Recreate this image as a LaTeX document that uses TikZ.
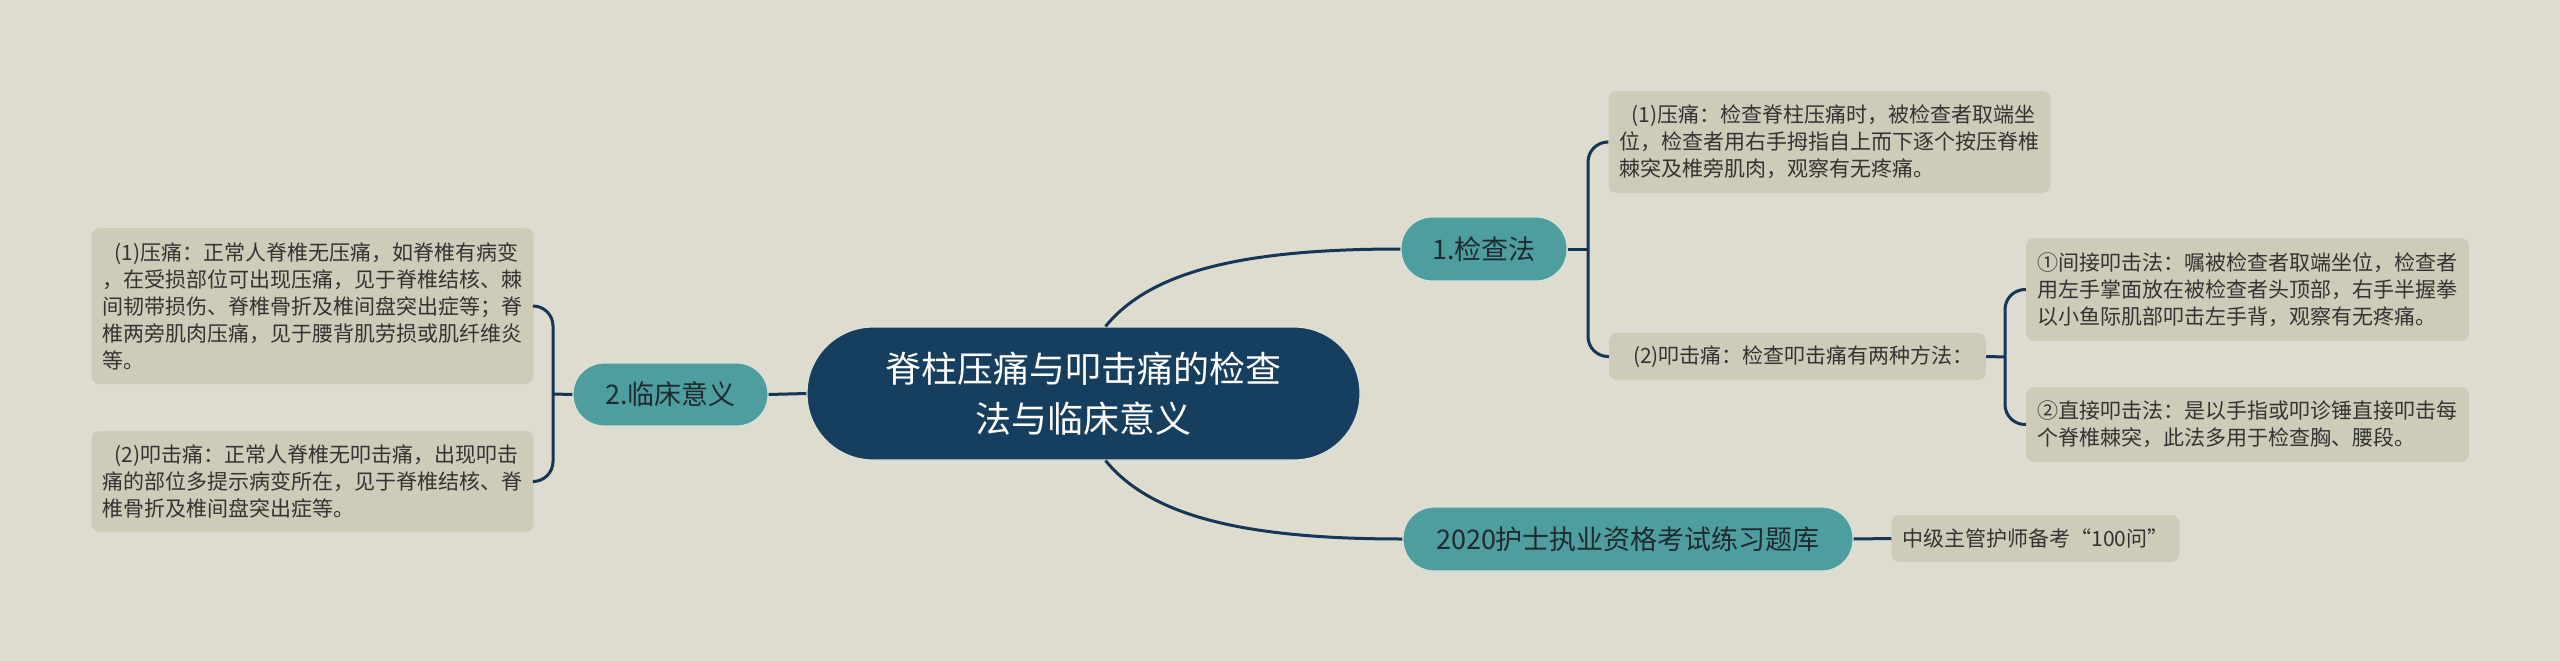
\documentclass[tikz,border=0pt]{standalone}
\usepackage{fontspec}
\setmainfont{Noto Sans CJK SC}
\definecolor{bgc}{HTML}{DEDCCE}
\definecolor{boxc}{HTML}{CECCB8}
\definecolor{tealc}{HTML}{4E9D9F}
\definecolor{tealedge}{HTML}{D8E2DA}
\definecolor{navyc}{HTML}{163E5E}
\definecolor{linec}{HTML}{143758}
\definecolor{txtc}{HTML}{333333}
\definecolor{topictxt}{HTML}{1F2B2E}
\begin{document}
\begin{tikzpicture}[x=1bp,y=-1bp,
  box/.style={fill=boxc, rounded corners=8bp, inner xsep=11bp, inner ysep=5bp,
    font=\fontsize{21bp}{27bp}\selectfont, text=txtc, align=left},
  topic/.style={fill=tealc, draw=tealedge, line width=1.2bp, rounded corners=31bp,
    inner sep=0pt, font=\fontsize{27bp}{32bp}\selectfont, text=topictxt},
  rootnode/.style={fill=navyc, draw=tealedge, line width=1.2bp, rounded corners=66bp,
    inner sep=0pt, font=\fontsize{36bp}{50bp}\selectfont, text=white, align=center},
  link/.style={draw=linec, line width=3bp}
]
\fill[bgc] (0,0) rectangle (2560,661);
\useasboundingbox (0,0) rectangle (2560,661);

% nodes
\node[rootnode, minimum width=553bp, minimum height=133bp] (c) at (1083.5,393.5)
  {脊柱压痛与叩击痛的检查\\法与临床意义};
\node[topic, minimum width=195bp, minimum height=63bp] (n2) at (670.5,394.5) {2.临床意义};
\node[topic, minimum width=166bp, minimum height=64bp] (n1) at (1484,249) {1.检查法};
\node[topic, minimum width=450bp, minimum height=64bp] (n3) at (1628,539) {2020护士执业资格考试练习题库};

\node[box, minimum width=441bp, minimum height=156bp] (L1) at (312.5,306)
  {\hspace*{12bp}(1)压痛：正常人脊椎无压痛，如脊椎有病变\\
   ，在受损部位可出现压痛，见于脊椎结核、棘\\
   间韧带损伤、脊椎骨折及椎间盘突出症等；脊\\
   椎两旁肌肉压痛，见于腰背肌劳损或肌纤维炎\\
   等。};
\node[box, minimum width=441bp, minimum height=101bp] (L2) at (312.5,481.5)
  {\hspace*{12bp}(2)叩击痛：正常人脊椎无叩击痛，出现叩击\\
   痛的部位多提示病变所在，见于脊椎结核、脊\\
   椎骨折及椎间盘突出症等。};
\node[box, minimum width=441bp, minimum height=102bp] (R1) at (1829.5,142)
  {\hspace*{12bp}(1)压痛：检查脊柱压痛时，被检查者取端坐\\
   位，检查者用右手拇指自上而下逐个按压脊椎\\
   棘突及椎旁肌肉，观察有无疼痛。};
\node[box, minimum width=377bp, minimum height=47bp] (R2) at (1797.5,356.5)
  {\hspace*{12bp}(2)叩击痛：检查叩击痛有两种方法：};
\node[box, minimum width=443bp, minimum height=103bp] (R3) at (2247.5,289.5)
  {①间接叩击法：嘱被检查者取端坐位，检查者\\
   用左手掌面放在被检查者头顶部，右手半握拳\\
   以小鱼际肌部叩击左手背，观察有无疼痛。};
\node[box, minimum width=443bp, minimum height=75bp] (R4) at (2247.5,424.5)
  {②直接叩击法：是以手指或叩诊锤直接叩击每\\
   个脊椎棘突，此法多用于检查胸、腰段。};
\node[box, minimum width=283bp, minimum height=47bp] (R5) at (2035.5,538.5)
  {中级主管护师备考“100问”};

% bracket coordinates
\coordinate (bL) at (553,394);
\coordinate (b1) at (1588,249);
\coordinate (b3) at (2005,357);

% connectors
\draw[link] (c.west) -- (n2.east);
\draw[link] (n2.west) -- (bL);
\draw[link, rounded corners=20bp] (L1.east) -| (bL) |- (L2.east);

\draw[link] ([xshift=22bp]c.north) .. controls (1150,272) and (1240,249) .. (n1.west);
\draw[link] ([xshift=22bp]c.south) .. controls (1150,515) and (1240,539) .. (n3.west);

\draw[link] (n1.east) -- (b1);
\draw[link, rounded corners=20bp] (R1.west) -| (b1) |- (R2.west);
\draw[link] (R2.east) -- (b3);
\draw[link, rounded corners=20bp] (R3.west) -| (b3) |- (R4.west);
\draw[link] (n3.east) -- (R5.west);
\end{tikzpicture}
\end{document}
